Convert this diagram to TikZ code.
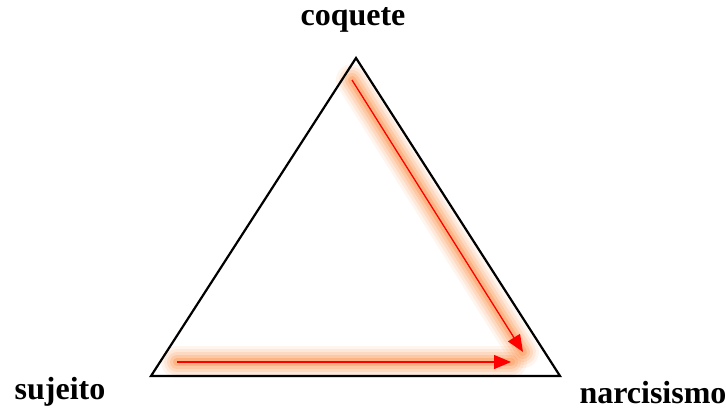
\documentclass[tikz,border=0pt]{standalone}
\usepackage{fontspec}
\setmainfont{Liberation Serif}
\usetikzlibrary{arrows.meta}
\definecolor{glowc}{RGB}{250,130,50}
\tikzset{
  lbl/.style={font=\bfseries\fontsize{32}{36}\selectfont, inner sep=0pt},
  tri/.style={draw=black, line width=2.2pt, line join=miter},
  glow/.style={line cap=round, draw=glowc},
  redarrow/.style={draw=red, line width=1.3pt, -{Triangle[length=17pt,width=14pt]}, fill=red}
}
\begin{document}
\begin{tikzpicture}[x=1pt,y=-1pt]
\useasboundingbox (0,0) rectangle (726,410);
\coordinate (A) at (356,58);
\coordinate (B) at (151,376);
\coordinate (C) at (560,376);
\coordinate (d1) at (352,80);
\coordinate (d2) at (523,352);
\coordinate (h1) at (177,362);
\coordinate (h2) at (511,362);
% glow
\foreach \w/\o in {32/0.08,26/0.11,20/0.15,14/0.2,8/0.28}{
  \draw[glow, line width=\w pt, opacity=\o] (d1) -- (d2);
  \draw[glow, line width=\w pt, opacity=\o] (h1) -- (h2);
}
\draw[tri] (A) -- (B) -- (C) -- cycle;
\draw[redarrow] (d1) -- (d2);
\draw[redarrow] (h1) -- (h2);
\node[lbl] (coq) at (353,20) {coquete};
\node[lbl] (suj) at (60,392) {sujeito};
\node[lbl] (nar) at (653,393) {narcisismo};
\end{tikzpicture}
\end{document}
